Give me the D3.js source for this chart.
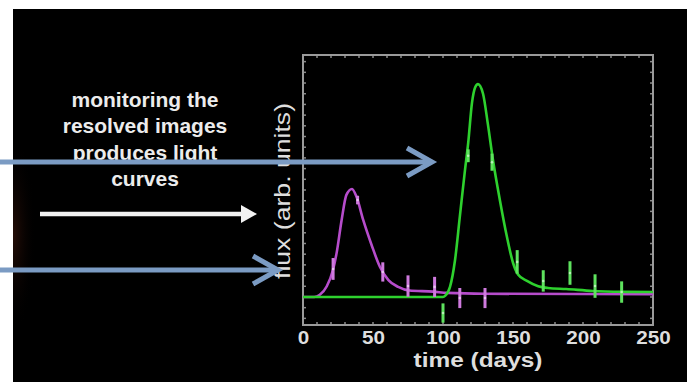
<!DOCTYPE html>
<html>
<head>
<meta charset="utf-8">
<script src="https://cdn.jsdelivr.net/npm/d3@7"></script>
<style>
  html, body { margin: 0; padding: 0; background: #ffffff; }
  svg { display: block; }
</style>
</head>
<body>
<svg id="chart" width="687" height="382"></svg>
<script>
// Light curves of two resolved images (arbitrary flux units vs. time in days)
const xTicks = [0, 50, 100, 150, 200, 250];

// Model curve, image A (magenta)
const curveADays = [0, 8, 12, 17, 21.4, 24, 27.6, 31, 35, 38.3, 43, 49, 55, 61, 68, 76, 93, 103, 130, 250];
const curveAFlux = [0, 0, 0.1, 0.5, 1.26, 2.05, 3.6, 4.77, 5.05, 4.67, 3.6, 2.43, 1.4, 0.79, 0.47, 0.3, 0.25, 0.19, 0.15, 0.13];

// Model curve, image B (green)
const curveBDays = [0, 100, 101.5, 105, 108.6, 112, 115.7, 118, 120.7, 123, 125, 128.6, 132, 135.7, 140.7, 145.7, 150, 153.6, 160, 168, 175, 188, 207, 230, 250];
const curveBFlux = [0, 0, 0.05, 0.47, 1.73, 3.74, 5.93, 7.2, 9.07, 9.8, 9.95, 9.5, 8.1, 6.4, 4.5, 2.8, 1.6, 1.05, 0.75, 0.5, 0.42, 0.37, 0.28, 0.24, 0.23];

// Observations with error bars, image A
const obsADays = [21.5, 39, 57, 75, 94, 112, 130];
const obsAFlux = [1.31, 4.53, 1.17, 0.51, 0.47, -0.05, -0.05];
const obsAErr  = [0.51, 0.2, 0.45, 0.5, 0.47, 0.47, 0.47];

// Observations with error bars, image B
const obsBDays = [100, 118, 135, 153, 171.6, 190.7, 208.6, 227.6];
const obsBFlux = [-0.75, 6.6, 6.3, 1.64, 0.75, 1.12, 0.51, 0.23];
const obsBErr  = [0.45, 0.3, 0.4, 0.55, 0.5, 0.55, 0.55, 0.5];

const captionLines = ["monitoring the", "resolved images", "produces light", "curves"];

const colorA = "#b64ccb";
const colorAbar = "#cf7ade";
const colorB = "#2ed12e";
const colorBbar = "#5ee25e";
const arrowBlue = "#7b9bc3";

const svg = d3.select("#chart");

// Slide background
svg.append("rect").attr("x", 13).attr("y", 9).attr("width", 674).attr("height", 373).attr("fill", "#000");

const defs = svg.append("defs");
defs.append("clipPath").attr("id", "slideClip")
  .append("rect").attr("x", 13).attr("y", 9).attr("width", 674).attr("height", 373);
const glow = defs.append("radialGradient").attr("id", "edgeGlow");
glow.append("stop").attr("offset", "0%").attr("stop-color", "#2c1008").attr("stop-opacity", 0.8);
glow.append("stop").attr("offset", "100%").attr("stop-color", "#000").attr("stop-opacity", 0);
svg.append("ellipse").attr("clip-path", "url(#slideClip)")
  .attr("cx", 14).attr("cy", 235).attr("rx", 22).attr("ry", 100).attr("fill", "url(#edgeGlow)");

// Plot geometry
const plotLeft = 303, plotRight = 653, plotTop = 55, plotBottom = 325;
const x = d3.scaleLinear().domain([0, 250]).range([plotLeft, plotRight]);
const y = d3.scaleLinear().domain([-1.31, 11.31]).range([plotBottom, plotTop]);

// Frame with minor ticks on all sides
const frame = svg.append("g");
const minorX = d3.range(0, 251, 10);
const minorY = d3.range(-1, 11.01, 0.5);
const frameGrey = "#8a8a8a";
frame.append("g").selectAll("line").data(minorX).join("line")
  .attr("x1", d => x(d)).attr("x2", d => x(d)).attr("y1", plotBottom).attr("y2", plotBottom - 3)
  .attr("stroke", frameGrey).attr("stroke-width", 1.5);
frame.append("g").selectAll("line").data(minorX).join("line")
  .attr("x1", d => x(d)).attr("x2", d => x(d)).attr("y1", plotTop).attr("y2", plotTop + 3)
  .attr("stroke", frameGrey).attr("stroke-width", 1.5);
frame.append("g").selectAll("line").data(minorY).join("line")
  .attr("x1", plotLeft).attr("x2", plotLeft + 3).attr("y1", d => y(d)).attr("y2", d => y(d))
  .attr("stroke", frameGrey).attr("stroke-width", 1.5);
frame.append("g").selectAll("line").data(minorY).join("line")
  .attr("x1", plotRight).attr("x2", plotRight - 3).attr("y1", d => y(d)).attr("y2", d => y(d))
  .attr("stroke", frameGrey).attr("stroke-width", 1.5);
frame.append("rect").attr("x", plotLeft).attr("y", plotTop)
  .attr("width", plotRight - plotLeft).attr("height", plotBottom - plotTop)
  .attr("fill", "none").attr("stroke", "#9a9a9a").attr("stroke-width", 2);

// Bottom axis labels
const xAxis = d3.axisBottom(x).tickValues(xTicks).tickSize(0).tickPadding(8);
const gx = svg.append("g").attr("transform", `translate(0,${plotBottom})`).call(xAxis);
gx.select(".domain").remove();
gx.selectAll("text")
  .attr("fill", "#dedede")
  .style("font-family", "'Liberation Sans', Arial, sans-serif")
  .style("font-size", "18px")
  .style("font-weight", "bold")
  .attr("dy", "0.6em")
  .attr("textLength", d => String(d).length * 11.5)
  .attr("lengthAdjust", "spacingAndGlyphs");

svg.append("text")
  .attr("x", 478).attr("y", 367)
  .attr("text-anchor", "middle")
  .attr("fill", "#dedede")
  .style("font-family", "'Liberation Sans', Arial, sans-serif")
  .style("font-size", "20px")
  .style("font-weight", "bold")
  .attr("textLength", 129).attr("lengthAdjust", "spacingAndGlyphs")
  .text("time (days)");

svg.append("text")
  .attr("transform", "translate(290,191) rotate(-90)")
  .attr("text-anchor", "middle")
  .attr("fill", "#dedede")
  .style("font-family", "'Liberation Sans', Arial, sans-serif")
  .style("font-size", "22px")
  .attr("textLength", 176).attr("lengthAdjust", "spacingAndGlyphs")
  .text("flux (arb. units)");

// Model curves
const line = d3.line().x(d => x(d[0])).y(d => y(d[1])).curve(d3.curveMonotoneX);
const plot = svg.append("g");
plot.append("path").datum(d3.zip(curveADays, curveAFlux)).attr("d", line)
  .attr("fill", "none").attr("stroke", colorA).attr("stroke-width", 2.6);
plot.append("path").datum(d3.zip(curveBDays, curveBFlux)).attr("d", line)
  .attr("fill", "none").attr("stroke", colorB).attr("stroke-width", 2.6);

// Error bars
function drawObs(days, flux, err, color) {
  const data = d3.zip(days, flux, err);
  plot.append("g").selectAll("line").data(data).join("line")
    .attr("x1", d => x(d[0])).attr("x2", d => x(d[0]))
    .attr("y1", d => y(d[1] + d[2])).attr("y2", d => y(d[1] - d[2]))
    .attr("stroke", color).attr("stroke-width", 3);
  plot.append("g").selectAll("circle").data(data).join("circle")
    .attr("cx", d => x(d[0])).attr("cy", d => y(d[1])).attr("r", 1.3)
    .attr("fill", "#ffffff").attr("opacity", 0.55);
}
drawObs(obsADays, obsAFlux, obsAErr, colorAbar);
drawObs(obsBDays, obsBFlux, obsBErr, colorBbar);

// Caption
const caption = svg.append("text")
  .attr("text-anchor", "middle")
  .attr("fill", "#ececec")
  .style("font-family", "'Liberation Sans', Arial, sans-serif")
  .style("font-size", "21px")
  .style("font-weight", "bold");
caption.selectAll("tspan").data(captionLines).join("tspan")
  .attr("x", 145).attr("y", (d, i) => 107 + i * 26.3)
  .text(d => d);

// White arrow
svg.append("line").attr("x1", 40).attr("x2", 244).attr("y1", 214).attr("y2", 214)
  .attr("stroke", "#f2f2f2").attr("stroke-width", 4.5);
svg.append("path").attr("d", "M241,205 L257,214 L241,223 Z").attr("fill", "#f2f2f2");

// Blue pointer arrows
function blueArrow(yPos, tipX) {
  const g = svg.append("g").attr("stroke", arrowBlue).attr("stroke-width", 5).attr("fill", "none");
  g.append("line").attr("x1", 0).attr("x2", tipX - 2).attr("y1", yPos).attr("y2", yPos);
  g.append("path").attr("d", `M${tipX - 25},${yPos - 14} L${tipX},${yPos} L${tipX - 25},${yPos + 14}`)
    .attr("stroke-linejoin", "miter");
}
blueArrow(162, 432);
blueArrow(270, 278);
</script>
</body>
</html>
